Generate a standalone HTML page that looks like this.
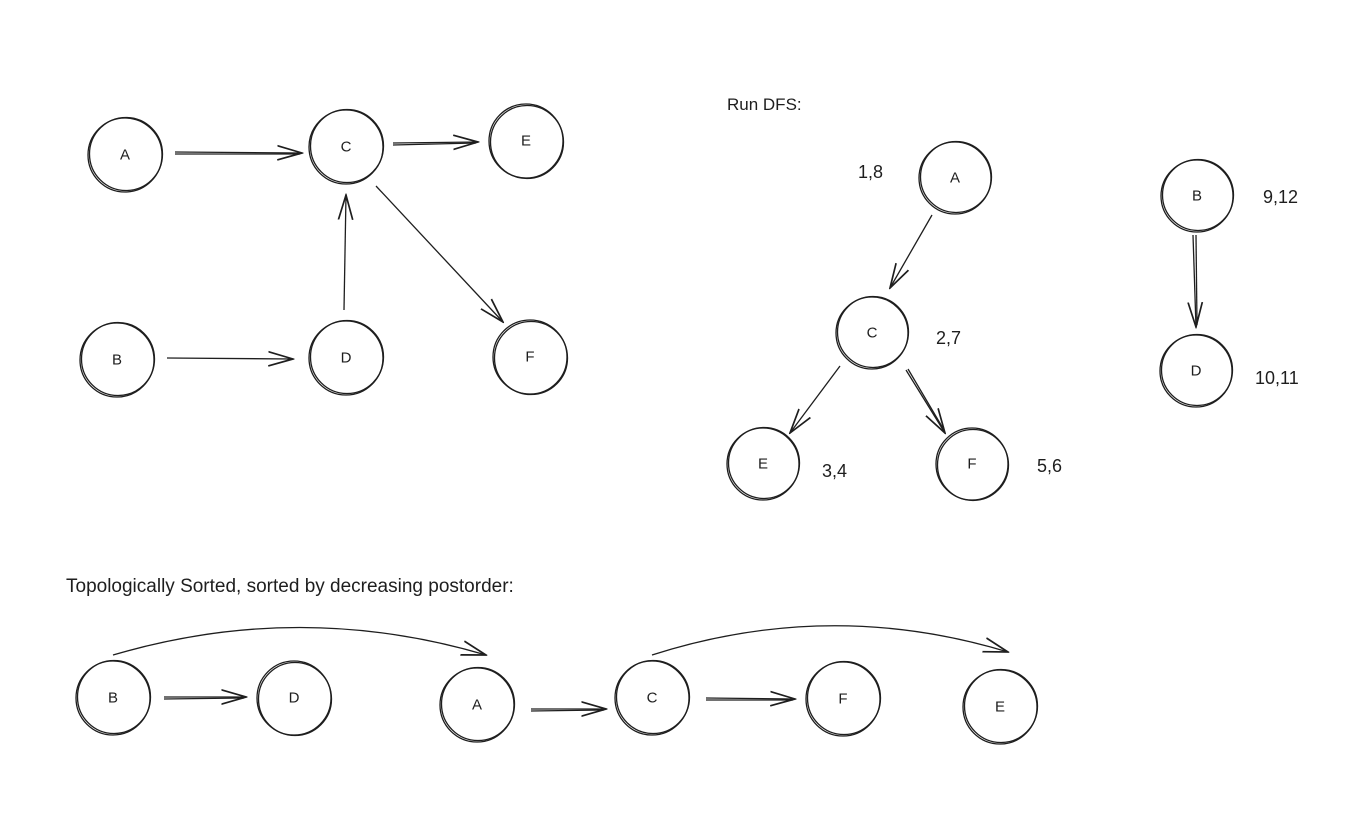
<!DOCTYPE html>
<html><head><meta charset="utf-8"><style>
html,body{margin:0;padding:0;background:#fff;}
svg{display:block;}
text{font-family:"Liberation Sans",sans-serif;fill:#1e1e1e;}
</style></head><body>
<svg width="1366" height="832" viewBox="0 0 1366 832" xmlns="http://www.w3.org/2000/svg">
<defs>
<marker id="ah" viewBox="0 0 20 20" refX="19" refY="10" markerWidth="26" markerHeight="26" markerUnits="userSpaceOnUse" orient="auto">
<path d="M0,4.5 L19,10 L0,15.5" fill="none" stroke="#1e1e1e" stroke-width="1.3"/>
</marker>
</defs>
<g fill="none" stroke="#1e1e1e" stroke-width="1.3">
<circle cx="125" cy="155" r="37"/><circle cx="126" cy="154" r="36.5"/>
<circle cx="346" cy="147" r="37"/><circle cx="347" cy="146" r="36.5"/>
<circle cx="526" cy="141" r="37"/><circle cx="527" cy="142" r="36.5"/>
<circle cx="117" cy="360" r="37"/><circle cx="118" cy="359" r="36.5"/>
<circle cx="346" cy="358" r="37"/><circle cx="347" cy="357" r="36.5"/>
<circle cx="530" cy="357" r="37"/><circle cx="531" cy="358" r="36.5"/>

<circle cx="955" cy="178" r="36"/><circle cx="956" cy="177" r="35.5"/>
<circle cx="872" cy="333" r="36"/><circle cx="873" cy="332" r="35.5"/>
<circle cx="763" cy="464" r="36"/><circle cx="764" cy="463" r="35.5"/>
<circle cx="972" cy="464" r="36"/><circle cx="973" cy="465" r="35.5"/>
<circle cx="1197" cy="196" r="36"/><circle cx="1198" cy="195" r="35.5"/>
<circle cx="1196" cy="371" r="36"/><circle cx="1197" cy="370" r="35.5"/>

<circle cx="113" cy="698" r="37"/><circle cx="114" cy="697" r="36.5"/>
<circle cx="294" cy="698" r="37"/><circle cx="295" cy="699" r="36.5"/>
<circle cx="477" cy="705" r="37"/><circle cx="478" cy="704" r="36.5"/>
<circle cx="652" cy="698" r="37"/><circle cx="653" cy="697" r="36.5"/>
<circle cx="843" cy="699" r="37"/><circle cx="844" cy="698" r="36.5"/>
<circle cx="1000" cy="707" r="37"/><circle cx="1001" cy="706" r="36.5"/>

<path d="M175,152 L302,153" marker-end="url(#ah)"/><path d="M175,154 L300,154"/>
<path d="M393,143 L478,142" marker-end="url(#ah)"/><path d="M393,145 L476,143"/>
<path d="M376,186 L503,322" marker-end="url(#ah)"/>
<path d="M344,310 L346,195" marker-end="url(#ah)"/>
<path d="M167,358 L293,359" marker-end="url(#ah)"/>

<path d="M932,215 L890,288" marker-end="url(#ah)"/>
<path d="M840,366 L790,433" marker-end="url(#ah)"/>
<path d="M906,370 L945,433" marker-end="url(#ah)"/><path d="M908,369 L944,430"/>
<path d="M1193,235 L1196,327" marker-end="url(#ah)"/><path d="M1196,235 L1197,325"/>

<path d="M164,697 L246,697" marker-end="url(#ah)"/><path d="M164,699 L244,698"/>
<path d="M531,709 L606,709" marker-end="url(#ah)"/><path d="M531,711 L604,710"/>
<path d="M706,698 L795,699" marker-end="url(#ah)"/><path d="M706,700 L793,700"/>
<path d="M113,655 Q300,600 486,655" marker-end="url(#ah)"/>
<path d="M652,655 Q830,598 1008,652" marker-end="url(#ah)"/>
</g>
<g font-size="15" text-anchor="middle" dominant-baseline="central">
<text x="125" y="155">A</text><text x="346" y="147">C</text><text x="526" y="141">E</text>
<text x="117" y="360">B</text><text x="346" y="358">D</text><text x="530" y="357">F</text>
<text x="955" y="178">A</text><text x="872" y="333">C</text><text x="763" y="464">E</text>
<text x="972" y="464">F</text><text x="1197" y="196">B</text><text x="1196" y="371">D</text>
<text x="113" y="698">B</text><text x="294" y="698">D</text><text x="477" y="705">A</text>
<text x="652" y="698">C</text><text x="843" y="699">F</text><text x="1000" y="707">E</text>
</g>
<g font-size="18" dominant-baseline="central">
<text x="858" y="172">1,8</text>
<text x="936" y="338">2,7</text>
<text x="822" y="471">3,4</text>
<text x="1037" y="466">5,6</text>
<text x="1263" y="197">9,12</text>
<text x="1255" y="378">10,11</text>
</g>
<text x="727" y="110" font-size="17">Run DFS:</text>
<text x="66" y="592" font-size="19">Topologically Sorted, sorted by decreasing postorder:</text>
</svg>
</body></html>
